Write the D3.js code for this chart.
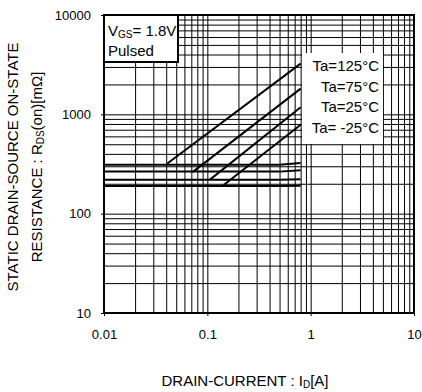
<!DOCTYPE html>
<html>
<head>
<meta charset="utf-8">
<script src="https://cdn.jsdelivr.net/npm/d3@7"></script>
<style>
  body { margin: 0; background: #fff; }
  text { font-family: "Liberation Sans", Arial, sans-serif; fill: #000; }
</style>
</head>
<body>
<svg id="chart" width="422" height="392"></svg>
<script>
// data
var temps = ["Ta=125°C", "Ta=75°C", "Ta=25°C", "Ta= -25°C"];
// flat part of each curve (ID [A] -> RDS(on) [mOhm])
var flatCurrent = [0.01, 0.5, 0.8];
var flat125 = [310, 310, 324];
var flat75 = [265, 265, 273];
var flat25 = [220, 220, 222];
var flatM25 = [190, 190, 191];
// rising part of each curve
var rise125 = [[0.041, 320], [0.8, 3240]];
var rise75 = [[0.072, 262], [0.8, 1815]];
var rise25 = [[0.106, 220], [0.8, 1176]];
var riseM25 = [[0.143, 193], [0.8, 787]];

var xTicks = [0.01, 0.1, 1, 10];
var yTicks = [10, 100, 1000, 10000];

var svg = d3.select("#chart");
var pLeft = 104, pTop = 15, pRight = 414, pBottom = 313;

// Add X axis
var x = d3.scaleLog()
  .domain([0.01, 10])
  .range([pLeft, pRight]);

// Add Y axis
var y = d3.scaleLog()
  .domain([10, 10000])
  .range([pBottom, pTop]);

// minor grid values 1..9 in every decade
function decadeGrid(lo, hi) {
  var v = [];
  for (var d = lo; d < hi; d *= 10) {
    for (var k = 1; k <= 9; k++) v.push(d * k);
  }
  v.push(hi);
  return v;
}

svg.append("g")
  .attr("transform", "translate(0," + pBottom + ")")
  .call(d3.axisBottom(x).tickValues(decadeGrid(0.01, 10)).tickSize(-(pBottom - pTop)).tickFormat(""))
  .call(function(g) { g.select(".domain").remove(); })
  .selectAll("line").attr("stroke", "#000").attr("stroke-width", 1);

svg.append("g")
  .attr("transform", "translate(" + pLeft + ",0)")
  .call(d3.axisLeft(y).tickValues(decadeGrid(10, 10000)).tickSize(-(pRight - pLeft)).tickFormat(""))
  .call(function(g) { g.select(".domain").remove(); })
  .selectAll("line").attr("stroke", "#000").attr("stroke-width", 1);

// tick labels
svg.append("g")
  .attr("transform", "translate(0," + pBottom + ")")
  .call(d3.axisBottom(x).tickValues(xTicks).tickSize(3).tickPadding(14).tickFormat(function(d) { return d; }))
  .call(function(g) {
    g.select(".domain").remove();
    g.selectAll("text").attr("font-size", 13).attr("font-family", "Liberation Sans, Arial, sans-serif");
    g.selectAll("line").attr("stroke", "#000");
  });

svg.append("g")
  .attr("transform", "translate(" + pLeft + ",0)")
  .call(d3.axisLeft(y).tickValues(yTicks).tickSize(3).tickPadding(10).tickFormat(function(d) { return d; }))
  .call(function(g) {
    g.select(".domain").remove();
    g.selectAll("text").attr("font-size", 13).attr("font-family", "Liberation Sans, Arial, sans-serif");
    g.selectAll("line").attr("stroke", "#000");
  });

// curves
var line = d3.line()
  .x(function(d) { return x(d[0]); })
  .y(function(d) { return y(d[1]); });

var flats = [flat125, flat75, flat25, flatM25];
var rises = [rise125, rise75, rise25, riseM25];

flats.forEach(function(f) {
  svg.append("path")
    .datum(flatCurrent.map(function(c, i) { return [c, f[i]]; }))
    .attr("d", line)
    .attr("fill", "none")
    .attr("stroke", "#000")
    .attr("stroke-width", 2);
});
rises.forEach(function(r) {
  svg.append("path")
    .datum(r)
    .attr("d", line)
    .attr("fill", "none")
    .attr("stroke", "#000")
    .attr("stroke-width", 2);
});

// temperature labels
svg.append("rect")
  .attr("x", 302).attr("y", 53).attr("width", 81).attr("height", 91)
  .attr("fill", "#fff");
svg.selectAll(".tlab")
  .data(temps)
  .enter()
  .append("text")
    .attr("class", "tlab")
    .attr("x", 379)
    .attr("y", function(d, i) { return 71 + i * 20.5; })
    .attr("text-anchor", "end")
    .attr("font-size", 15)
    .text(function(d) { return d; });

// VGS box
svg.append("rect")
  .attr("x", pLeft).attr("y", pTop).attr("width", 74).attr("height", 47)
  .attr("fill", "#fff").attr("stroke", "#000").attr("stroke-width", 2);
var vgs = svg.append("text").attr("x", 108).attr("y", 36).attr("font-size", 15);
vgs.append("tspan").text("V");
vgs.append("tspan").attr("font-size", 10).attr("dy", 2).text("GS");
vgs.append("tspan").attr("dy", -2).text("= 1.8V");
svg.append("text").attr("x", 108).attr("y", 56).attr("font-size", 15).text("Pulsed");

// plot frame
svg.append("rect")
  .attr("x", pLeft).attr("y", pTop)
  .attr("width", pRight - pLeft).attr("height", pBottom - pTop)
  .attr("fill", "none").attr("stroke", "#000").attr("stroke-width", 2);

// axis titles
var xt = svg.append("text")
  .attr("x", 245).attr("y", 386)
  .attr("text-anchor", "middle")
  .attr("font-size", 15);
xt.append("tspan").text("DRAIN-CURRENT : I");
xt.append("tspan").attr("font-size", 10).attr("dy", 2).text("D");
xt.append("tspan").attr("dy", -2).text("[A]");

svg.append("text")
  .attr("transform", "translate(18,167) rotate(-90)")
  .attr("text-anchor", "middle")
  .attr("font-size", 15)
  .text("STATIC DRAIN-SOURCE ON-STATE");

var yt = svg.append("text")
  .attr("transform", "translate(42,167) rotate(-90)")
  .attr("text-anchor", "middle")
  .attr("font-size", 15);
yt.append("tspan").text("RESISTANCE : R");
yt.append("tspan").attr("font-size", 10).attr("dy", 2).text("DS");
yt.append("tspan").attr("dy", -2).text("(on)[mΩ]");
</script>
</body>
</html>
